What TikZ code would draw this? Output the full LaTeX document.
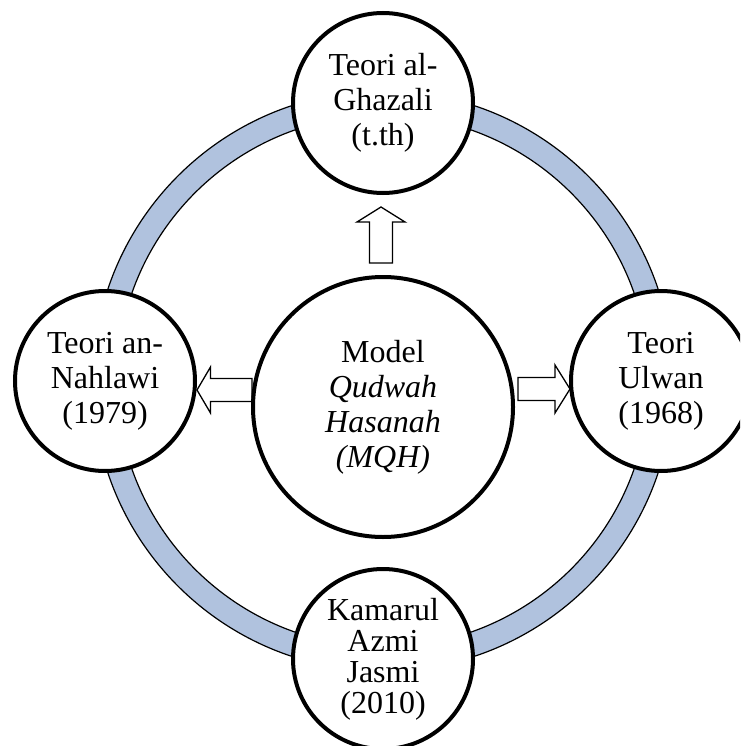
\documentclass[tikz,border=0pt]{standalone}
\usepackage{fontspec}
\setmainfont{Liberation Serif}
\usetikzlibrary{calc}
\definecolor{ringblue}{RGB}{176,194,222}
\begin{document}
\begin{tikzpicture}[x=1pt,y=-1pt,
  sat/.style={circle, draw=black, line width=4pt, fill=white, minimum size=180pt, inner sep=0pt, align=center, font=\fontsize{32}{35}\selectfont},
  hub/.style={sat, minimum size=260pt},
  barrow/.style={draw=black, line width=1.3pt, fill=white, line join=miter},
  ringline/.style={draw=black, line width=1.2pt}]
\useasboundingbox (0,0) rectangle (740,746);
\begin{scope}
\clip (0,0) rectangle (740,746);
\coordinate (c) at (383,381);
\fill[ringblue, even odd rule] (c) circle[radius=290] (c) circle[radius=266];
\draw[ringline] (c) circle[radius=290] (c) circle[radius=266];
% block arrows
\coordinate (aup) at (381,235);
\coordinate (alf) at (224.5,390);
\coordinate (art) at (544,389);
\begin{scope}[shift={(aup)}, rotate=90]
  \draw[barrow] (-28,-11.5) -- (13,-11.5) -- (13,-24) -- (28,0) -- (13,24) -- (13,11.5) -- (-28,11.5) -- cycle;
\end{scope}
\begin{scope}[shift={(alf)}, rotate=180]
  \draw[barrow] (-27.5,-11.5) -- (14,-11.5) -- (14,-23) -- (27.5,0) -- (14,23) -- (14,11.5) -- (-27.5,11.5) -- cycle;
\end{scope}
\begin{scope}[shift={(art)}]
  \draw[barrow] (-26,-11.5) -- (11,-11.5) -- (11,-24) -- (26,0) -- (11,24) -- (11,11.5) -- (-26,11.5) -- cycle;
\end{scope}
% circles
\node[hub] (mid) at (383,407) {Model\\\textit{Qudwah}\\\textit{Hasanah}\\\textit{(MQH)}};
\node[sat] (top) at (383,103) {Teori al-\\Ghazali\\(t.th)};
\node[sat] (lft) at (105,381) {Teori an-\\Nahlawi\\(1979)};
\node[sat] (rgt) at (661,381) {Teori\\Ulwan\\(1968)};
\node[sat, font=\fontsize{32}{31}\selectfont] (bot) at (383,659) {Kamarul\\Azmi\\Jasmi\\(2010)};
\end{scope}
\end{tikzpicture}
\end{document}
